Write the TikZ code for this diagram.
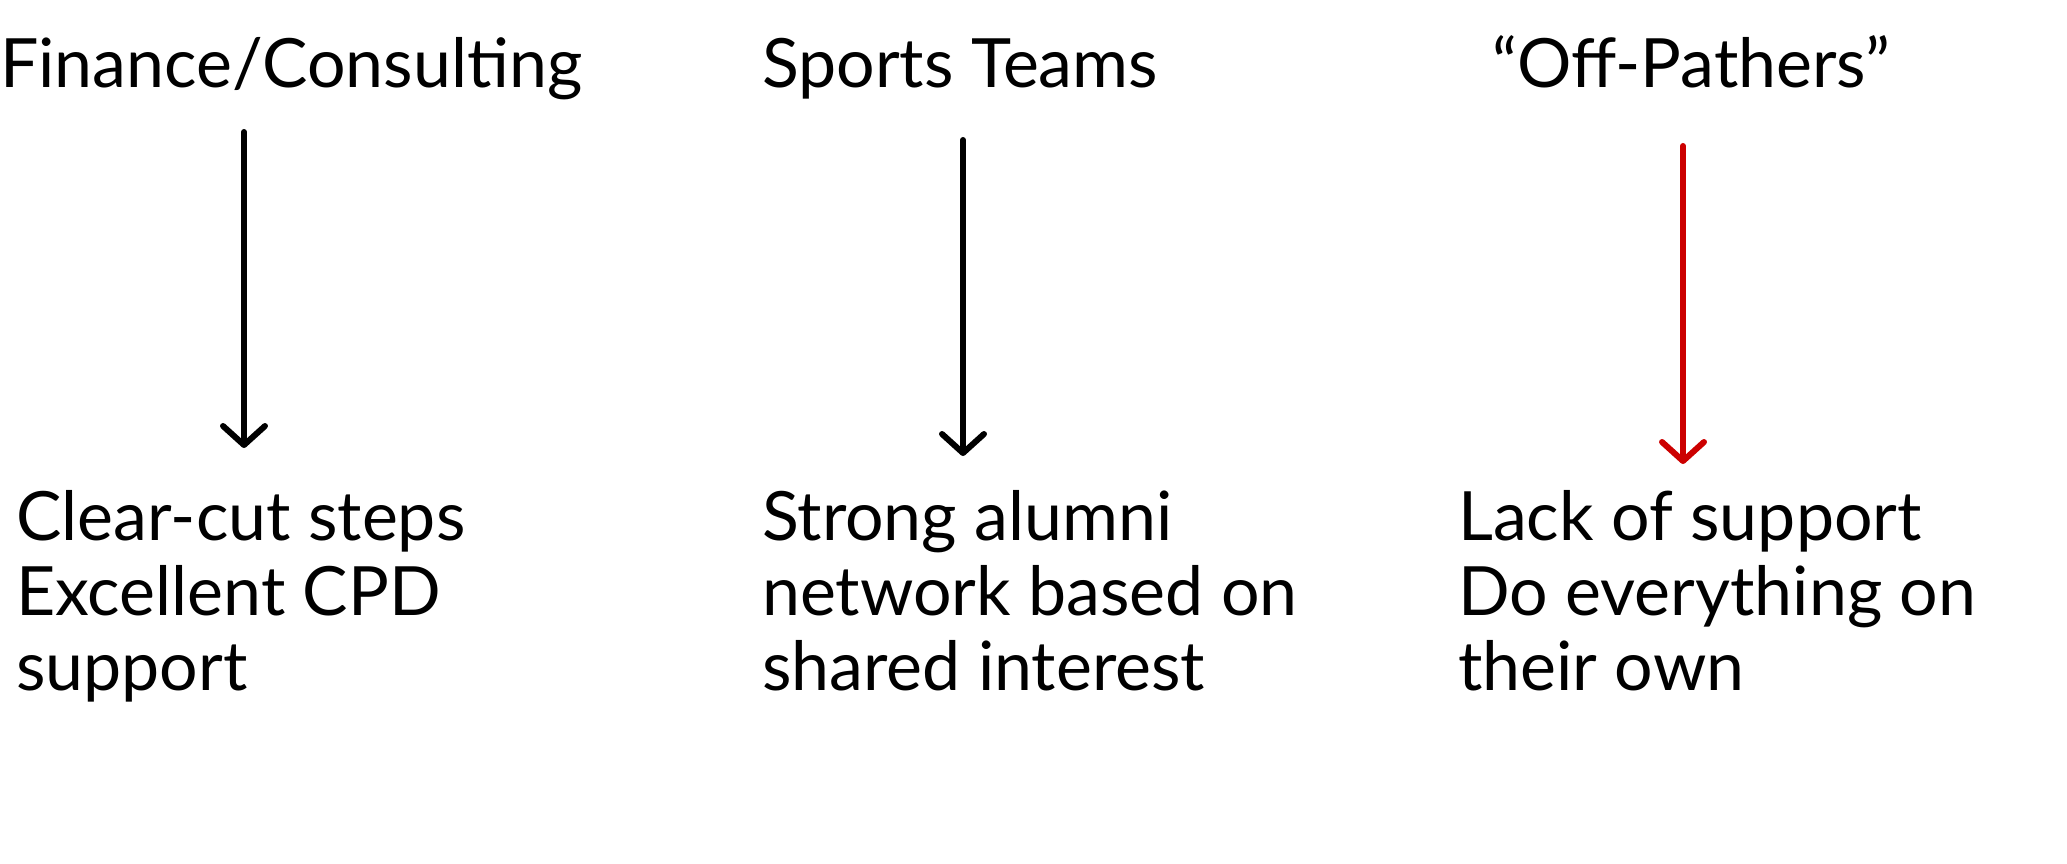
\documentclass[tikz,border=0pt]{standalone}
\usepackage{fontspec}
\setmainfont{Lato}
\usetikzlibrary{arrows.meta}
\definecolor{arrowred}{RGB}{204,0,0}
\begin{document}
\begin{tikzpicture}[x=1pt,y=-1pt,
  txt/.style={anchor=base west,inner sep=0pt,align=left,font=\fontsize{68}{75}\selectfont},
  conn/.style={line width=6pt,line cap=round,line join=round,-{Straight Barb[length=19pt,width=42pt,line width=6pt,line cap=round,line join=round]}}]
\useasboundingbox (0,0) rectangle (2067,864);
\node[txt] (t1) at (0,88) {Finance/Consulting};
\node[txt] (t2) at (762,88) {Sports Teams};
\node[txt] (t3) at (1492,88) {“Off-Pathers”};
\node[txt] (b1) at (16,690) {Clear-cut steps\\Excellent CPD\\support};
\node[txt] (b2) at (762,690) {Strong alumni\\network based on\\shared interest};
\node[txt] (b3) at (1458,690) {Lack of support\\Do everything on\\their own};
\coordinate (s1) at (244,132); \coordinate (e1) at (244,448);
\coordinate (s2) at (963,140); \coordinate (e2) at (963,456);
\coordinate (s3) at (1683,146); \coordinate (e3) at (1683,464);
\draw[conn] (s1) -- (e1);
\draw[conn] (s2) -- (e2);
\draw[conn,arrowred] (s3) -- (e3);
\end{tikzpicture}
\end{document}
